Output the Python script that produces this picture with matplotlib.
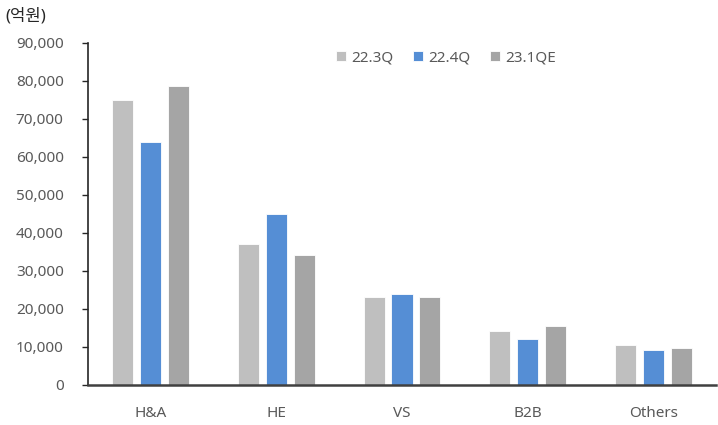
import matplotlib.pyplot as plt
import numpy as np
from matplotlib.ticker import FuncFormatter

plt.rcParams["font.family"] = ["Noto Sans", "Noto Sans CJK KR", "DejaVu Sans"]

categories = ["H&A", "HE", "VS", "B2B", "Others"]
series_names = ["22.3Q", "22.4Q", "23.1QE"]
q22_3 = [75000, 37100, 23200, 14200, 10500]
q22_4 = [63900, 45000, 24000, 12100, 9300]
q23_1e = [78700, 34200, 23200, 15500, 9700]
colors = ["#BFBFBF", "#558ED5", "#A5A5A5"]

fig = plt.figure(figsize=(7.18, 4.25), dpi=100)
ax = fig.add_axes([88 / 718, 1 - 385 / 425, 628 / 718, 342 / 425])

x = np.arange(len(categories))
width = 0.168
step = 0.222
for i, (vals, name, c) in enumerate(zip([q22_3, q22_4, q23_1e], series_names, colors)):
    ax.bar(x + (i - 1) * step, vals, width, color=c, label=name,
           edgecolor="white", linewidth=0.6)

ax.set_xlim(-0.5, len(categories) - 0.5)
ax.set_ylim(0, 90000)
ax.set_yticks(range(0, 90001, 10000))
ax.yaxis.set_major_formatter(FuncFormatter(lambda v, p: f"{int(v):,}"))
ax.set_xticks(x)
ax.set_xticklabels(categories)

for s in ["top", "right"]:
    ax.spines[s].set_visible(False)
ax.spines["left"].set_color("#262626")
ax.spines["left"].set_linewidth(1.2)
ax.spines["bottom"].set_color("#404040")
ax.spines["bottom"].set_linewidth(1.8)

ax.tick_params(axis="y", direction="out", length=4.5, width=1, color="#262626",
               labelsize=11, labelcolor="#595959", pad=13)
ax.tick_params(axis="x", length=0, labelsize=11, labelcolor="#595959", pad=15)

fig.text(5 / 718, 1 - 16 / 425, "(억원)", fontsize=12, color="#262626", va="center")

ax.legend(loc="center", bbox_to_anchor=(446 / 718, 1 - 58 / 425),
          bbox_transform=fig.transFigure, ncol=3, frameon=False, fontsize=11,
          labelcolor="#595959", handlelength=0.65, handleheight=0.65,
          handletextpad=0.35, columnspacing=1.3)

fig.savefig("out.png", dpi=100)
